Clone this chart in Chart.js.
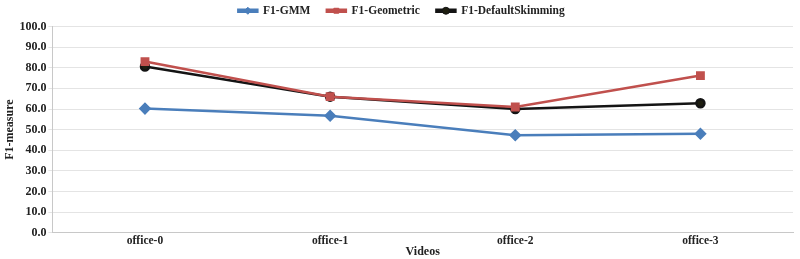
<!DOCTYPE html>
<html>
<head>
<meta charset="utf-8">
<script src="https://cdn.jsdelivr.net/npm/chart.js@4"></script>
<style>
  html, body { margin: 0; padding: 0; background: #fff; }
  #wrap { width: 800px; height: 259px; }
</style>
</head>
<body>
<div id="wrap"><canvas id="myChart"></canvas></div>
<script>
const videos = ['office-0', 'office-1', 'office-2', 'office-3'];
const gmm = [60.2, 56.7, 47.3, 48.0];
const geometric = [83.0, 66.0, 61.0, 76.2];
const defaultSkimming = [80.6, 66.0, 60.0, 62.8];
const yTicks = [0, 10, 20, 30, 40, 50, 60, 70, 80, 90, 100];

document.addEventListener('DOMContentLoaded', (event) => {
    const serif = "'Liberation Serif', 'Times New Roman', serif";
    Chart.defaults.font.family = serif;
    Chart.defaults.color = '#222';

    // legend: line sample with the series marker in the middle
    const legendMarkers = {
        id: 'legendMarkers',
        afterDraw(chart) {
            const legend = chart.legend;
            if (!legend || !legend.legendHitBoxes) return;
            const c = chart.ctx;
            legend.legendHitBoxes.forEach((box, i) => {
                const ds = chart.data.datasets[i];
                const cx = box.left + legend.options.labels.boxWidth / 2;
                const cy = box.top + box.height / 2;
                c.save();
                c.fillStyle = ds.backgroundColor;
                c.strokeStyle = ds.borderColor;
                Chart.helpers.drawPoint(c, {
                    pointStyle: ds.pointStyle,
                    radius: 3.5,
                    rotation: 0,
                    borderWidth: 1
                }, cx, cy);
                c.restore();
            });
        }
    };

    const ctx = document.getElementById('myChart').getContext('2d');
    const myChart = new Chart(ctx, {
        type: 'line',
        data: {
            labels: videos,
            datasets: [
                {
                    label: 'F1-GMM',
                    data: gmm,
                    borderColor: '#4a7ebb',
                    backgroundColor: '#4a7ebb',
                    borderWidth: 2.5,
                    pointStyle: 'rectRot',
                    pointRadius: 4.5,
                    tension: 0
                },
                {
                    label: 'F1-Geometric',
                    data: geometric,
                    borderColor: '#c0504d',
                    backgroundColor: '#c0504d',
                    borderWidth: 2.5,
                    pointStyle: 'rect',
                    pointRadius: 4.5,
                    tension: 0
                },
                {
                    label: 'F1-DefaultSkimming',
                    data: defaultSkimming,
                    borderColor: '#141414',
                    backgroundColor: '#1e1e10',
                    borderWidth: 2.5,
                    pointStyle: 'circle',
                    pointRadius: 4,
                    tension: 0
                }
            ]
        },
        options: {
            responsive: true,
            maintainAspectRatio: false,
            animation: false,
            layout: { padding: { left: 3, right: 0, top: 0, bottom: 0 } },
            scales: {
                x: {
                    offset: true,
                    grid: {
                        offset: true,
                        drawOnChartArea: false,
                        drawTicks: false,
                        color: '#c8c8c8'
                    },
                    border: { color: '#c8c8c8' },
                    ticks: {
                        font: { size: 11.5, weight: 'bold' },
                        color: '#222',
                        padding: 1
                    },
                    title: {
                        display: true,
                        text: 'Videos',
                        font: { size: 12, weight: 'bold' },
                        padding: { top: -4, bottom: 0 }
                    }
                },
                y: {
                    min: 0,
                    max: 100,
                    afterBuildTicks: (axis) => {
                        axis.ticks = yTicks.map(v => ({ value: v }));
                    },
                    grid: {
                        color: '#e4e4e4',
                        tickLength: 4,
                        drawTicks: true
                    },
                    border: { color: '#c8c8c8' },
                    ticks: {
                        font: { size: 12, weight: 'bold' },
                        color: '#222',
                        padding: 2,
                        callback: (v) => Number(v).toFixed(1)
                    },
                    title: {
                        display: true,
                        text: 'F1-measure',
                        font: { size: 12, weight: 'bold' },
                        padding: { top: 0, bottom: 0 }
                    }
                }
            },
            plugins: {
                legend: {
                    display: true,
                    position: 'top',
                    labels: {
                        usePointStyle: false,
                        boxWidth: 19,
                        boxHeight: 2,
                        padding: 5,
                        font: { size: 11.5, weight: 'bold' },
                        color: '#222',
                        generateLabels: (chart) => {
                            const items = Chart.defaults.plugins.legend.labels.generateLabels(chart);
                            items.forEach((it, i) => {
                                if (i < items.length - 1) it.text = it.text + '    ';
                            });
                            return items;
                        }
                    }
                },
                tooltip: { enabled: false }
            }
        },
        plugins: [legendMarkers]
    });
});
</script>
</body>
</html>
